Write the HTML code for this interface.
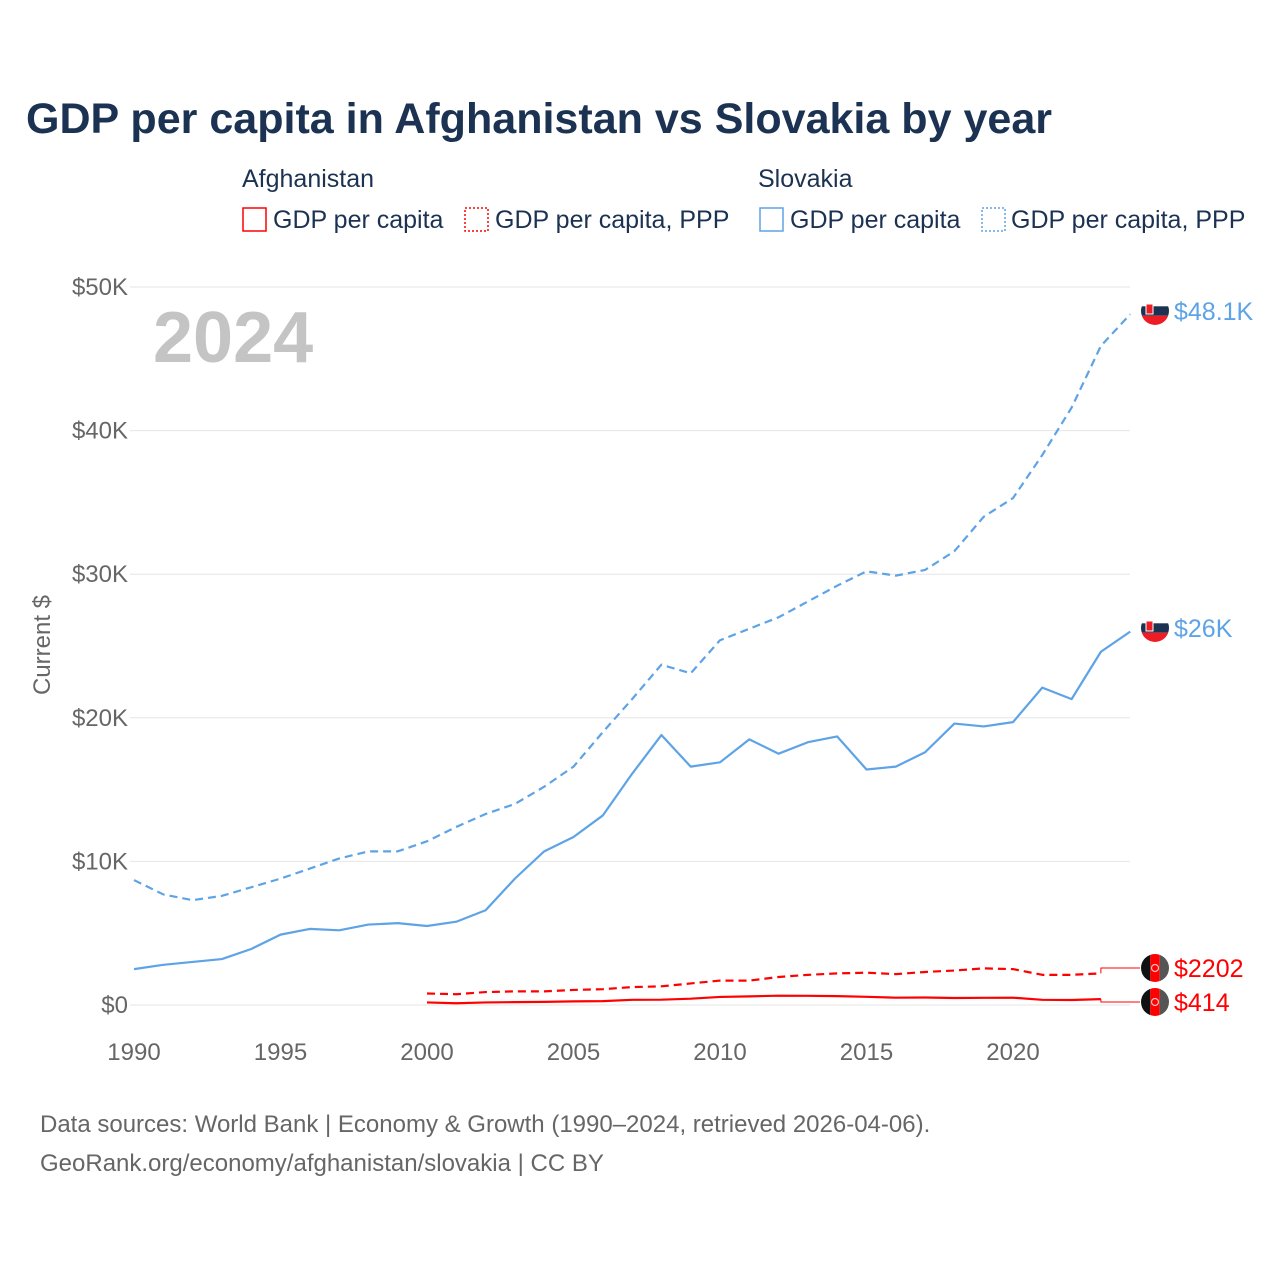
<!DOCTYPE html>
<html><head><meta charset="utf-8"><style>
body{margin:0;background:#fff;font-family:"Liberation Sans",sans-serif}
svg text{font-family:"Liberation Sans",sans-serif}
</style></head><body>
<svg width="1280" height="1280" viewBox="0 0 1280 1280">
<defs>
<clipPath id="cf"><circle cx="0" cy="0" r="14"/></clipPath>
</defs>
<text x="26" y="133" font-size="43" font-weight="bold" fill="#1b3252" textLength="1026" lengthAdjust="spacingAndGlyphs">GDP per capita in Afghanistan vs Slovakia by year</text>
<g font-size="25" fill="#1b3252">
<text x="242" y="187">Afghanistan</text>
<text x="758" y="187">Slovakia</text>
<g><rect x="243" y="208" width="23" height="23" fill="none" stroke="#f00" stroke-width="1.5"/><text x="273" y="228">GDP per capita</text></g>
<g><rect x="465" y="208" width="23" height="23" fill="none" stroke="#f00" stroke-width="1.5" stroke-dasharray="2,2"/><text x="495" y="228">GDP per capita, PPP</text></g>
<g><rect x="760" y="208" width="23" height="23" fill="none" stroke="#5ea3e6" stroke-width="1.5"/><text x="790" y="228">GDP per capita</text></g>
<g><rect x="982" y="208" width="23" height="23" fill="none" stroke="#5ea3e6" stroke-width="1.5" stroke-dasharray="2,2"/><text x="1011" y="228">GDP per capita, PPP</text></g>
</g>
<text x="153" y="362" font-size="72" font-weight="bold" fill="#c4c4c4">2024</text>
<text transform="translate(50,645) rotate(-90)" text-anchor="middle" font-size="24" fill="#666">Current $</text>
<g id="grid"></g><g id="series"></g><g id="labels"></g>
<text x="40" y="1132" font-size="24" fill="#666">Data sources: World Bank | Economy &amp; Growth (1990–2024, retrieved 2026-04-06).</text>
<text x="40" y="1171" font-size="24" fill="#666">GeoRank.org/economy/afghanistan/slovakia | CC BY</text>
</svg>
<script>
const years=[];for(let y=1990;y<=2024;y++)years.push(y);
const svkGdp=[2500,2800,3000,3200,3900,4900,5300,5200,5600,5700,5500,5800,6600,8800,10700,11700,13200,16100,18800,16600,16900,18500,17500,18300,18700,16400,16600,17600,19600,19400,19700,22100,21300,24600,26000];
const svkPpp=[8700,7700,7300,7600,8200,8800,9500,10200,10700,10700,11400,12400,13300,14000,15200,16600,19000,21300,23700,23100,25400,26200,27000,28100,29200,30200,29900,30300,31600,34000,35300,38300,41600,45900,48100];
const afgYears=[];for(let y=2000;y<=2023;y++)afgYears.push(y);
const afgGdp=[180,120,180,200,220,250,270,360,370,440,560,600,650,640,620,570,510,520,490,500,510,360,350,410];
const afgPpp=[800,750,900,950,950,1050,1100,1250,1300,1500,1700,1700,1950,2100,2200,2250,2150,2300,2400,2550,2500,2100,2100,2200];
const yTicks=[0,10000,20000,30000,40000,50000];
const yTickLabels=['$0','$10K','$20K','$30K','$40K','$50K'];
const xTicks=[1990,1995,2000,2005,2010,2015,2020];
const endLabels=[{v:48100,t:'$48.1K',c:'#5ea3e6',f:'svk',ly:311},{v:26000,t:'$26K',c:'#5ea3e6',f:'svk',ly:628},{v:2202,t:'$2202',c:'#f00',f:'afg',ly:968},{v:414,t:'$414',c:'#f00',f:'afg',ly:1002}];
const X=y=>134+(y-1990)*(1013-134)/30;
const Y=v=>1005-v*(1005-287)/50000;
const NS='http://www.w3.org/2000/svg';
function mk(tag,attrs,parent){const e=document.createElementNS(NS,tag);for(const k in attrs)e.setAttribute(k,attrs[k]);parent.appendChild(e);return e;}
const grid=document.getElementById('grid');
yTicks.forEach((v,i)=>{
 const l=mk('line',{x1:130,x2:1130,y1:Y(v),y2:Y(v),stroke:'#e6e6e6','stroke-width':1},grid);
 
 
 const t=mk('text',{x:128,y:Y(v)+8,'text-anchor':'end','font-size':24,fill:'#666'},grid);
 t.textContent=yTickLabels[i];
 
 
});
xTicks.forEach(y=>{
 const t=mk('text',{x:X(y),y:1060,'text-anchor':'middle','font-size':24,fill:'#666'},grid);
 t.textContent=y;
 
 
});
const ser=document.getElementById('series');
function line(xs,vs,color,dash,name){
 const p=mk('polyline',{points:xs.map((y,i)=>X(y)+','+Y(vs[i])).join(' '),fill:'none',stroke:color,'stroke-width':2.2,'stroke-dasharray':dash||'none','stroke-linejoin':'round'},ser);
 
 
}
line(years,svkPpp,'#5ea3e6','8,5','line-slovakia-ppp');
line(years,svkGdp,'#5ea3e6','','line-slovakia-gdp');
line(afgYears,afgPpp,'#f00','8,5','line-afghanistan-ppp');
line(afgYears,afgGdp,'#f00','','line-afghanistan-gdp');
[[afgPpp,2],[afgGdp,3]].forEach(([arr,k])=>{
 const x0=X(2023),y0=Y(arr[arr.length-1]),ly=endLabels[k].ly;
 const c=mk('polyline',{points:`${x0},${y0} ${x0},${ly} 1140,${ly}`,fill:'none',stroke:'#f00','stroke-width':1},ser);
 
 
});
const lab=document.getElementById('labels');
endLabels.forEach(e=>{
 const g=mk('g',{transform:`translate(1155,${e.ly})`},lab);
 
 
 const gg=mk('g',{'clip-path':'url(#cf)'},g);
 if(e.f==='svk'){
  mk('rect',{x:-14,y:-14,width:28,height:9.3,fill:'#fff'},gg);
  mk('rect',{x:-14,y:-4.7,width:28,height:9.4,fill:'#1b3252'},gg);
  mk('rect',{x:-14,y:4.7,width:28,height:9.3,fill:'#ee1c25'},gg);
  mk('rect',{x:-9,y:-7,width:7,height:10,fill:'#ee1c25',stroke:'#fff','stroke-width':1},gg);
 }else{
  mk('rect',{x:-14,y:-14,width:9.3,height:28,fill:'#111'},gg);
  mk('rect',{x:-4.7,y:-14,width:9.4,height:28,fill:'#f00'},gg);
  mk('rect',{x:4.7,y:-14,width:9.3,height:28,fill:'#555'},gg);
  mk('circle',{cx:0,cy:0,r:3.5,fill:'none',stroke:'#fbb','stroke-width':1.2},gg);
 }
 const t=mk('text',{x:1174,y:e.ly+9,'font-size':25,fill:e.c},lab);
 t.textContent=e.t;
 
 
});
</script>
</body></html>
